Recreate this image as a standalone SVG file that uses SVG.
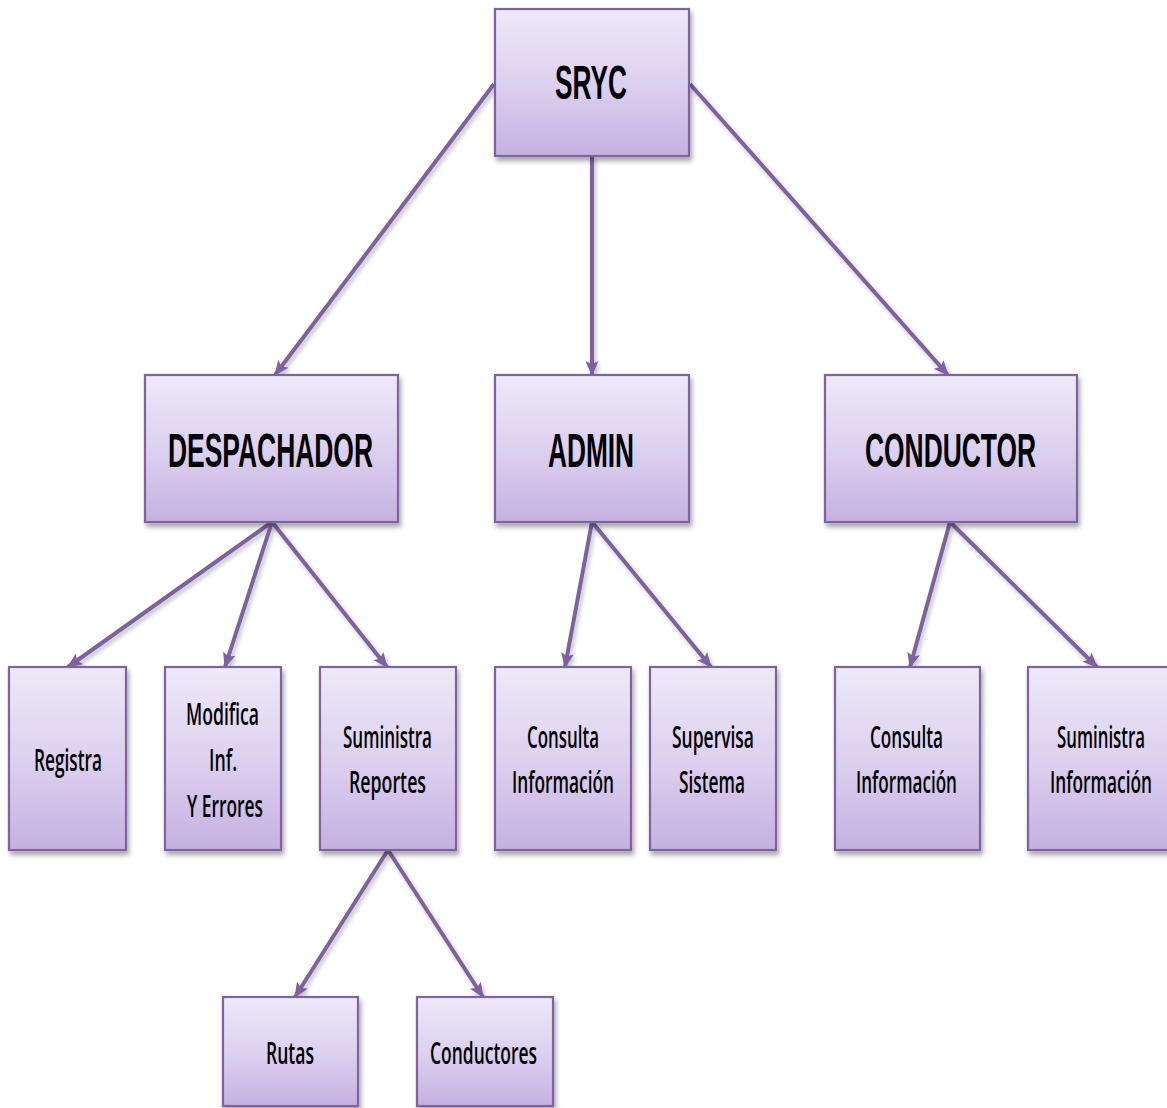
<svg xmlns="http://www.w3.org/2000/svg" width="1167" height="1108" viewBox="0 0 1167 1108">
  <defs>
    <linearGradient id="boxFill" x1="0" y1="0" x2="0" y2="1">
      <stop offset="0" stop-color="#eee9f8"/>
      <stop offset="0.5" stop-color="#ddd1ef"/>
      <stop offset="1" stop-color="#c5b1e1"/>
    </linearGradient>
    <filter id="shadow" x="-10%" y="-10%" width="125%" height="130%">
      <feDropShadow dx="2" dy="4" stdDeviation="2.5" flood-color="#000" flood-opacity="0.35"/>
    </filter>
    <filter id="lineShadow" x="-10%" y="-10%" width="120%" height="120%">
      <feDropShadow dx="2" dy="3" stdDeviation="2" flood-color="#000" flood-opacity="0.25"/>
    </filter>
    <marker id="arrow" viewBox="0 0 15 13" refX="14" refY="6.5" markerWidth="15" markerHeight="13" markerUnits="userSpaceOnUse" orient="auto">
      <path d="M0,0 L15,6.5 L0,13 L3,6.5 z" fill="#7e62a0"/>
    </marker>
  </defs>
  <style>
    .box { fill: url(#boxFill); stroke: #7f63a1; stroke-width: 2.2; filter: url(#shadow); }
    .title { font-family: "Liberation Sans", Arial, sans-serif; font-weight: bold; font-size: 48px; fill: #000; }
    .label { font-family: "Open Sans", "Liberation Sans", sans-serif; font-weight: 600; font-size: 31px; fill: #000; }
    .conn line { stroke: #7e62a0; stroke-width: 4; marker-end: url(#arrow); }
  </style>

  <g id="connectors" class="conn" filter="url(#lineShadow)">
    <line x1="494" y1="84" x2="275" y2="375"/>
    <line x1="592" y1="156" x2="592" y2="375"/>
    <line x1="690" y1="84" x2="948" y2="375"/>
    <line x1="272" y1="522" x2="68" y2="667"/>
    <line x1="272" y1="522" x2="225" y2="667"/>
    <line x1="272" y1="522" x2="387" y2="667"/>
    <line x1="592" y1="522" x2="565" y2="667"/>
    <line x1="592" y1="522" x2="711" y2="667"/>
    <line x1="950" y1="522" x2="910" y2="667"/>
    <line x1="950" y1="522" x2="1097" y2="667"/>
    <line x1="388" y1="850" x2="295" y2="997"/>
    <line x1="388" y1="850" x2="483" y2="997"/>
  </g>

  <g id="sryc">
    <rect class="box" x="495" y="9" width="194" height="147"/>
    <text class="title" x="555" y="99" textLength="72" lengthAdjust="spacingAndGlyphs">SRYC</text>
  </g>
  <g id="despachador">
    <rect class="box" x="145" y="375" width="253" height="147"/>
    <text class="title" x="168" y="467" textLength="205" lengthAdjust="spacingAndGlyphs">DESPACHADOR</text>
  </g>
  <g id="admin">
    <rect class="box" x="495" y="375" width="194" height="147"/>
    <text class="title" x="548" y="467" textLength="86" lengthAdjust="spacingAndGlyphs">ADMIN</text>
  </g>
  <g id="conductor">
    <rect class="box" x="825" y="375" width="252" height="147"/>
    <text class="title" x="865" y="467" textLength="171" lengthAdjust="spacingAndGlyphs">CONDUCTOR</text>
  </g>

  <g id="registra">
    <rect class="box" x="9" y="667" width="117" height="183"/>
    <text class="label" x="34" y="771" textLength="68" lengthAdjust="spacingAndGlyphs">Registra</text>
  </g>
  <g id="modifica">
    <rect class="box" x="165" y="667" width="116" height="183"/>
    <text class="label" x="186" y="725" textLength="73" lengthAdjust="spacingAndGlyphs">Modifica</text>
    <text class="label" x="209" y="771" textLength="28" lengthAdjust="spacingAndGlyphs">Inf.</text>
    <text class="label" x="187" y="817" textLength="76" lengthAdjust="spacingAndGlyphs">Y Errores</text>
  </g>
  <g id="suministra-reportes">
    <rect class="box" x="320" y="667" width="136" height="183"/>
    <text class="label" x="343" y="748" textLength="89" lengthAdjust="spacingAndGlyphs">Suministra</text>
    <text class="label" x="349" y="793" textLength="77" lengthAdjust="spacingAndGlyphs">Reportes</text>
  </g>
  <g id="consulta-admin">
    <rect class="box" x="495" y="667" width="136" height="183"/>
    <text class="label" x="527" y="748" textLength="72" lengthAdjust="spacingAndGlyphs">Consulta</text>
    <text class="label" x="512" y="793" textLength="102" lengthAdjust="spacingAndGlyphs">Información</text>
  </g>
  <g id="supervisa">
    <rect class="box" x="650" y="667" width="126" height="183"/>
    <text class="label" x="672" y="748" textLength="82" lengthAdjust="spacingAndGlyphs">Supervisa</text>
    <text class="label" x="679" y="793" textLength="66" lengthAdjust="spacingAndGlyphs">Sistema</text>
  </g>
  <g id="consulta-conductor">
    <rect class="box" x="835" y="667" width="145" height="183"/>
    <text class="label" x="870" y="748" textLength="73" lengthAdjust="spacingAndGlyphs">Consulta</text>
    <text class="label" x="856" y="793" textLength="101" lengthAdjust="spacingAndGlyphs">Información</text>
  </g>
  <g id="suministra-informacion">
    <rect class="box" x="1028" y="667" width="150" height="183"/>
    <text class="label" x="1057" y="748" textLength="88" lengthAdjust="spacingAndGlyphs">Suministra</text>
    <text class="label" x="1050" y="793" textLength="102" lengthAdjust="spacingAndGlyphs">Información</text>
  </g>

  <g id="rutas">
    <rect class="box" x="223" y="997" width="135" height="109"/>
    <text class="label" x="266" y="1064" textLength="48" lengthAdjust="spacingAndGlyphs">Rutas</text>
  </g>
  <g id="conductores">
    <rect class="box" x="417" y="997" width="136" height="109"/>
    <text class="label" x="430" y="1064" textLength="107" lengthAdjust="spacingAndGlyphs">Conductores</text>
  </g>
</svg>
